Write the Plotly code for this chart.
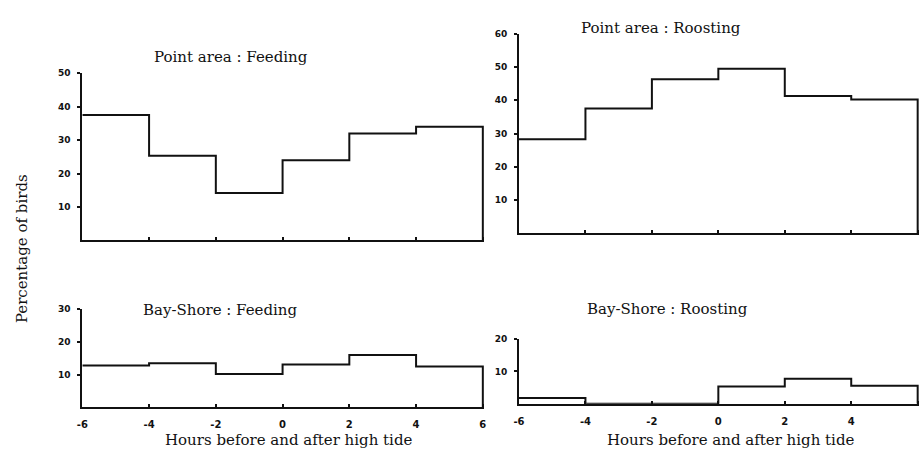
import plotly.graph_objects as go

# ---- data ----
hours = [-6, -4, -2, 0, 2, 4, 6]
hour_labels = ["-6", "-4", "-2", "0", "2", "4", "6"]
point_feeding = [37.5, 25.3, 14.2, 24.0, 32.0, 34.0]
point_roosting = [28.3, 37.5, 46.3, 49.5, 41.3, 40.2]
bay_feeding = [12.8, 13.5, 10.2, 13.1, 16.0, 12.5]
bay_roosting = [1.8, 0.0, 0.0, 5.3, 7.7, 5.6]

panel_titles = ["Point area : Feeding", "Point area : Roosting",
                "Bay-Shore : Feeding", "Bay-Shore : Roosting"]
y_ticks_pf = [10, 20, 30, 40, 50]
y_ticks_pr = [10, 20, 30, 40, 50, 60]
y_ticks_bf = [10, 20, 30]
y_ticks_br = [10, 20]
x_title = "Hours before and after high tide"
y_title = "Percentage of birds"

W, H = 921, 449
INK = "#111111"
SERIF = "DejaVu Serif"
TICKFONT = dict(family="DejaVu Sans", size=9, color=INK, weight="bold")


def px_x(p):
    return p / W


def px_y(p):
    return 1 - p / H


def step_xy(vals):
    # histogram outline: each value holds over its 2-hour bin, then drops to 0
    xs = list(hours) + [hours[-1]]
    ys = list(vals) + [vals[-1], 0]
    return xs, ys


fig = go.Figure()
series = [point_feeding, point_roosting, bay_feeding, bay_roosting]
for i, vals in enumerate(series):
    xs, ys = step_xy(vals)
    suffix = "" if i == 0 else str(i + 1)
    fig.add_trace(go.Scatter(x=xs, y=ys, mode="lines", line_shape="hv",
                             line=dict(color=INK, width=2),
                             xaxis="x" + suffix, yaxis="y" + suffix,
                             showlegend=False, hoverinfo="skip"))

# pixel geometry: (x of -6, x of 6, y of 0, y of top)
geom = [
    (77, 481, 238, 69, 50, y_ticks_pf, False),
    (517.5, 920, 231, 29, 60, y_ticks_pr, False),
    (77, 481, 407, 307.7, 30, y_ticks_bf, True),
    (517.5, 920, 403.3, 337.7, 20, y_ticks_br, True),
]

XPAD = 0.04
layout = {}
for i, (x0, x6, y0, ytop, ymax, yt, show_lbl) in enumerate(geom):
    suffix = "" if i == 0 else str(i + 1)
    pxu = (x6 - x0) / 12.0
    xend = min(1.0, px_x(x6 + XPAD * pxu))
    layout["xaxis" + suffix] = dict(
        domain=[px_x(x0), xend], range=[-6, 6 + XPAD],
        anchor="y" + suffix, showline=True, linecolor=INK, linewidth=2,
        showgrid=False, zeroline=False, ticks="inside", ticklen=3,
        tickwidth=1.5, tickcolor=INK, tickvals=hours,
        ticktext=hour_labels if show_lbl else [""] * len(hours),
        showticklabels=show_lbl, tickfont=dict(TICKFONT, size=10),
        ticklabelstandoff=7, fixedrange=True)
    layout["yaxis" + suffix] = dict(
        domain=[px_y(y0), px_y(ytop)], range=[0, ymax],
        anchor="x" + suffix, showline=True, linecolor=INK, linewidth=2,
        showgrid=False, zeroline=False, ticks="outside", ticklen=3,
        tickwidth=1.5, tickcolor=INK, tickvals=yt,
        ticktext=[str(v) for v in yt], tickfont=TICKFONT,
        ticklabelstandoff=5, fixedrange=True)

title_pos = [(227, 53), (661, 23), (216, 308), (667, 307)]
annotations = []
for t, (cx, cy) in zip(panel_titles, title_pos):
    annotations.append(dict(text=t, x=px_x(cx), y=px_y(cy), xref="paper",
                            yref="paper", showarrow=False, xanchor="center",
                            yanchor="middle",
                            font=dict(family=SERIF, size=15, color=INK)))
for cx in (285, 731):
    annotations.append(dict(text=x_title, x=px_x(cx), y=px_y(440),
                            xref="paper", yref="paper", showarrow=False,
                            xanchor="center", yanchor="middle",
                            font=dict(family=SERIF, size=15, color=INK)))
annotations.append(dict(text=y_title, x=px_x(16), y=px_y(246), xref="paper",
                        yref="paper", showarrow=False, textangle=-90,
                        xanchor="center", yanchor="middle",
                        font=dict(family=SERIF, size=15, color=INK)))

fig.update_layout(width=W, height=H, margin=dict(l=0, r=0, t=0, b=0),
                  paper_bgcolor="white", plot_bgcolor="white",
                  annotations=annotations, **layout)

fig.write_html("out.html", config={"displayModeBar": False},
               post_script="document.body.style.margin='0';"
                           "document.body.style.overflow='hidden';")
